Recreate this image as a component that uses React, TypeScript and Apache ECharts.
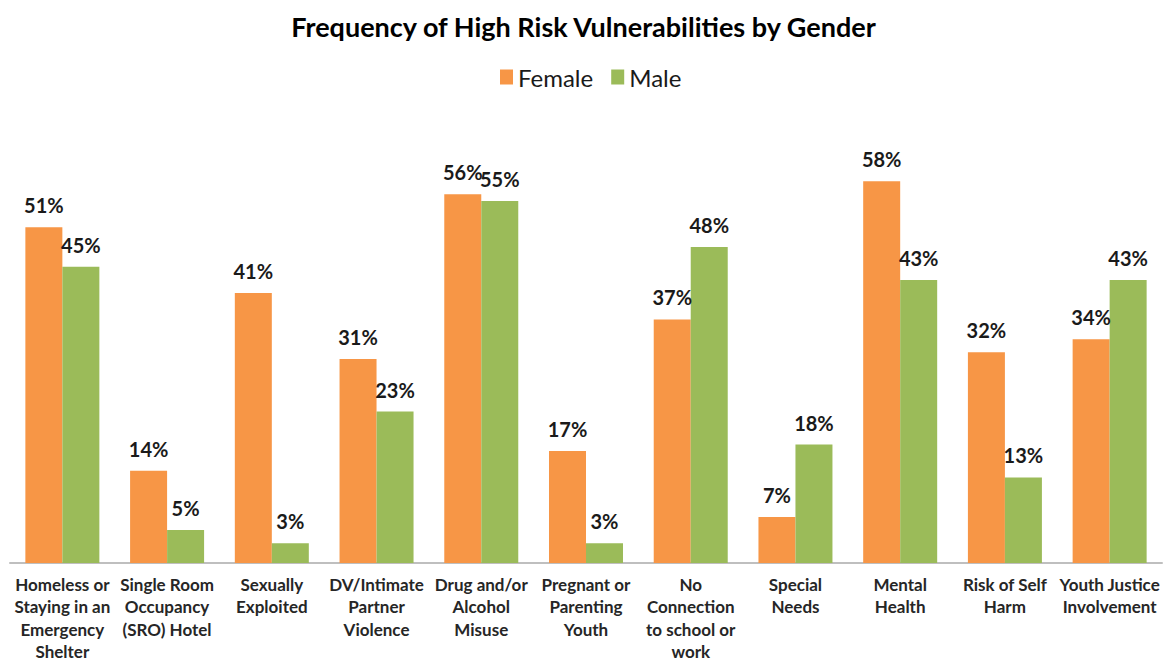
import React, { useEffect, useRef } from "react";
import * as echarts from "echarts";

const categories = [
  "Homeless or\nStaying in an\nEmergency\nShelter",
  "Single Room\nOccupancy\n(SRO) Hotel",
  "Sexually\nExploited",
  "DV/Intimate\nPartner\nViolence",
  "Drug and/or\nAlcohol\nMisuse",
  "Pregnant or\nParenting\nYouth",
  "No\nConnection\nto school or\nwork",
  "Special\nNeeds",
  "Mental\nHealth",
  "Risk of Self\nHarm",
  "Youth Justice\nInvolvement",
];
const femaleValues = [51, 14, 41, 31, 56, 17, 37, 7, 58, 32, 34];
const maleValues = [45, 5, 3, 23, 55, 3, 48, 18, 43, 13, 43];

const FONT = "Lato, 'Liberation Sans', sans-serif";

export default function App() {
  const ref = useRef<HTMLDivElement>(null);
  useEffect(() => {
    document.body.style.margin = "0";
    const chart = echarts.init(ref.current!, null, { renderer: "svg" });
    const label = {
      show: true,
      position: "top",
      distance: 12,
      formatter: (p: any) => p.value + "%",
      fontFamily: FONT,
      fontWeight: "bold",
      fontSize: 20,
      color: "#1a1a1a",
    };
    chart.setOption({
      animation: false,
      title: {
        text: "Frequency of High Risk Vulnerabilities by Gender",
        left: "center",
        top: 8,
        textStyle: { fontFamily: FONT, fontWeight: "bold", fontSize: 27, color: "#000" },
      },
      legend: {
        top: 60,
        left: 495,
        itemWidth: 13,
        itemHeight: 15,
        itemGap: 18,
        icon: "rect",
        textStyle: { fontFamily: FONT, fontSize: 24, color: "#1a1a1a" },
        data: ["Female", "Male"],
      },
      grid: {
        left: 10,
        right: 5,
        top: 168,
        bottom: 101,
        containLabel: false,
        outerBoundsMode: "none",
      },
      xAxis: {
        type: "category",
        data: categories,
        axisLine: { lineStyle: { color: "#bfbfbf", width: 2 } },
        axisTick: { show: false },
        axisLabel: {
          interval: 0,
          margin: 10,
          lineHeight: 22.5,
          fontFamily: FONT,
          fontWeight: "bold",
          fontSize: 17,
          color: "#262626",
        },
      },
      yAxis: { type: "value", min: 0, max: 60, show: false, splitLine: { show: false } },
      series: [
        {
          name: "Female",
          type: "bar",
          data: femaleValues,
          barWidth: 37,
          barGap: "0%",
          itemStyle: { color: "#F79646" },
          label,
        },
        {
          name: "Male",
          type: "bar",
          data: maleValues,
          barWidth: 37,
          barGap: "0%",
          itemStyle: { color: "#9BBB59" },
          label,
        },
      ],
    });
    return () => chart.dispose();
  }, []);
  return <div ref={ref} style={{ width: 1167, height: 664 }} />;
}
